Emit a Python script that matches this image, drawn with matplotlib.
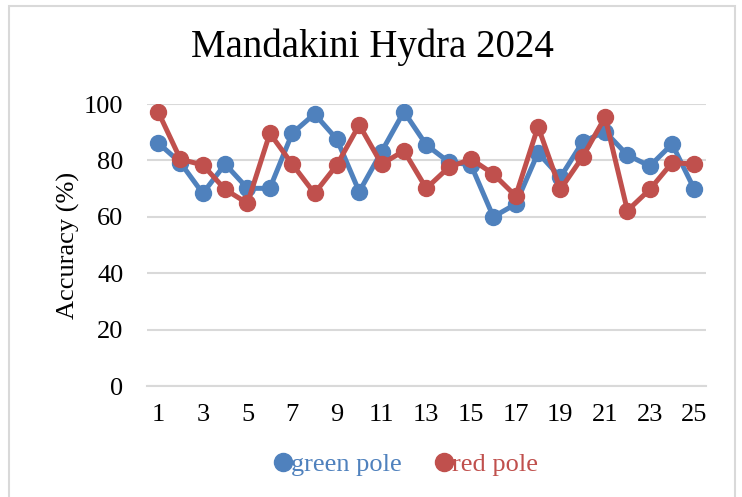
import matplotlib.pyplot as plt
from matplotlib.patches import Rectangle
from matplotlib.lines import Line2D

# values
poles = list(range(1, 26))
green_pole = [86.2, 79.2, 68.3, 78.7, 70.1, 70.1, 89.6, 96.5, 87.5, 68.9,
              83.1, 97.3, 85.5, 79.5, 78.4, 60.0, 64.5, 82.7, 74.0, 86.6,
              90.2, 81.9, 78.0, 85.8, 69.7]
red_pole = [97.3, 80.4, 78.4, 69.7, 64.8, 89.6, 78.7, 68.3, 78.4, 92.6,
            78.7, 83.4, 70.1, 77.5, 80.5, 75.2, 67.4, 92.0, 69.7, 81.3,
            95.3, 62.2, 69.7, 79.2, 78.7]
xtick_labels = [str(i) for i in range(1, 26, 2)]

BLUE = "#4F81BD"
RED = "#C0504D"
GRID = "#D9D9D9"

plt.rcParams["font.family"] = ["Liberation Serif", "DejaVu Serif"]

fig = plt.figure(figsize=(7.42, 4.97), dpi=100)
ax = fig.add_axes([0.198, 0.2233, 0.753, 0.5674])

ax.plot(poles, green_pole, color=BLUE, lw=3.6, marker="o", ms=11.5,
        solid_capstyle="round", zorder=3)
ax.plot(poles, red_pole, color=RED, lw=3.6, marker="o", ms=11.5,
        solid_capstyle="round", zorder=4)

ax.set_xlim(0.5, 25.5)
ax.set_ylim(0, 100)
ax.set_yticks(range(0, 101, 20))
ax.set_xticks(range(1, 26, 2))
ax.set_xticklabels(xtick_labels)
ax.grid(axis="y", color=GRID, lw=1.5, zorder=0)
ax.set_axisbelow(True)
for side in ["top", "right", "left"]:
    ax.spines[side].set_visible(False)
ax.spines["bottom"].set_color(GRID)
ax.spines["bottom"].set_linewidth(1.5)
ax.tick_params(length=0, labelsize=19)
ax.tick_params(axis="x", pad=13)
ax.tick_params(axis="y", pad=17)

ax.set_ylabel("Accuracy (%)", fontsize=19, labelpad=3)
fig.text(0.502, 0.905, "Mandakini Hydra 2024", ha="center", va="center",
         fontsize=28)

handles = [Line2D([], [], ls="none", marker="o", ms=13, color=BLUE),
           Line2D([], [], ls="none", marker="o", ms=13, color=RED)]
leg = fig.legend(handles, ["green pole", "red pole"], loc="center",
                 bbox_to_anchor=(0.548, 0.065), ncol=2, frameon=False,
                 fontsize=19, handlelength=0.6, handletextpad=0.0,
                 columnspacing=1.3, labelcolor=[BLUE, RED])

fig.patches.append(Rectangle((0.012, -0.05), 0.978, 1.037,
                             transform=fig.transFigure, fill=False,
                             edgecolor=GRID, lw=1.5))

fig.savefig("out.png", dpi=100)
